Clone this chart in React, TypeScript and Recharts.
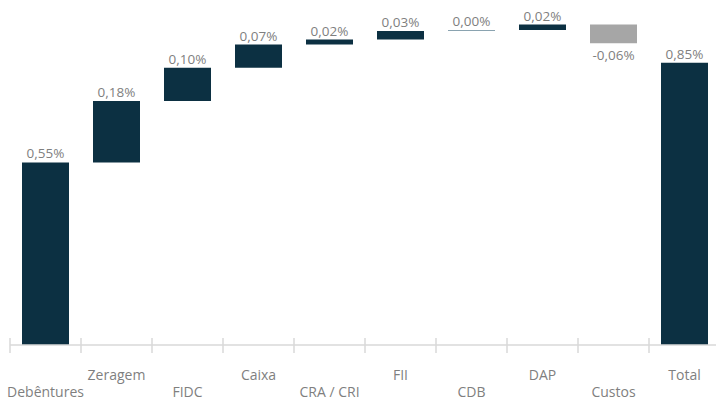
import { BarChart, Bar, XAxis, YAxis, Cell, LabelList } from "recharts";

const categories = ["Debêntures", "Zeragem", "FIDC", "Caixa", "CRA / CRI", "FII", "CDB", "DAP", "Custos", "Total"];
// deltas in % (bar heights)
const deltas = [0.55, 0.185, 0.1, 0.07, 0.015, 0.026, 0.003, 0.016, -0.056, 0.85];
const labels = ["0,55%", "0,18%", "0,10%", "0,07%", "0,02%", "0,03%", "0,00%", "0,02%", "-0,06%", "0,85%"];
const colors = ["#0c3042", "#0c3042", "#0c3042", "#0c3042", "#0c3042", "#0c3042", "#8aa3b0", "#0c3042", "#a6a6a6", "#0c3042"];

const TEXT_GREY = "#7f7f7f";
const FONT = "'Open Sans', sans-serif";

let running = 0;
const data = categories.map((name, i) => {
  const isTotal = i === categories.length - 1;
  const start = isTotal ? 0 : running;
  const end = isTotal ? deltas[i] : running + deltas[i];
  if (!isTotal) running = end;
  return { name, range: [Math.min(start, end), Math.max(start, end)] };
});

const HALF_BAND = 35.5;

function AxisTick(props: any) {
  const { x, y, payload, index } = props;
  const low = index % 2 === 0;
  return (
    <g>
      <line x1={x - HALF_BAND} x2={x - HALF_BAND} y1={y - 7} y2={y + 8} stroke="#d9d9d9" strokeWidth={1.5} />
      <text x={x} y={y + (low ? 52 : 35)} textAnchor="middle" fill={TEXT_GREY} fontSize={14} fontFamily={FONT}>
        {payload.value}
      </text>
    </g>
  );
}

function ValueLabel(props: any) {
  const { x, y, width, height, index } = props;
  const neg = deltas[index] < 0;
  const top = Math.min(y, y + height);
  const bottom = Math.max(y, y + height);
  return (
    <text
      x={x + width / 2}
      y={neg ? bottom + 17 : top - 4}
      textAnchor="middle"
      fill={TEXT_GREY}
      fontSize={13.5}
      fontFamily={FONT}
    >
      {labels[index]}
    </text>
  );
}

export default function App() {
  return (
    <div style={{ position: "fixed", left: 0, top: 0, width: 716, height: 401, overflow: "hidden", background: "#fff" }}>
      <BarChart width={720} height={401} data={data} margin={{ top: 13, right: 0, bottom: 0, left: 10 }} barCategoryGap={12}>
        <XAxis
          dataKey="name"
          height={56}
          tickSize={0}
          tickMargin={0}
          tickLine={false}
          axisLine={{ stroke: "#d9d9d9", strokeWidth: 1.5 }}
          tick={<AxisTick />}
          interval={0}
        />
        <YAxis hide domain={[0, 1]} />
        <Bar dataKey="range" isAnimationActive={false} barSize={47}>
          {data.map((d, i) => (
            <Cell key={d.name} fill={colors[i]} />
          ))}
          <LabelList dataKey="range" content={<ValueLabel />} />
        </Bar>
      </BarChart>
    </div>
  );
}
